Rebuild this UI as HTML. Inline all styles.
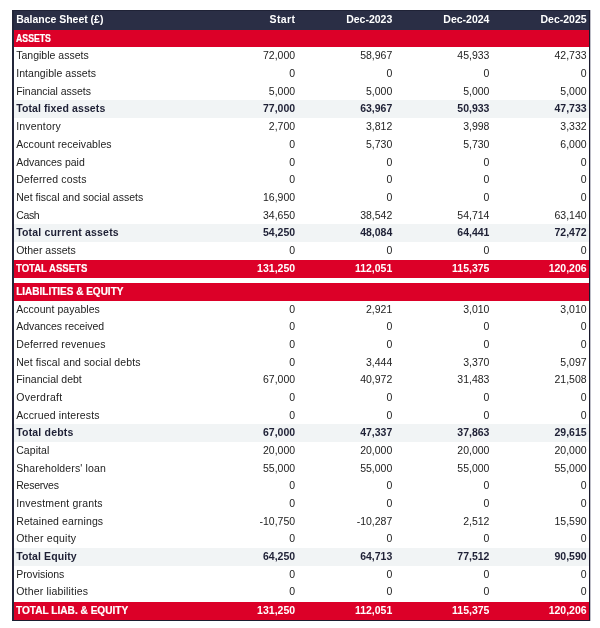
<!DOCTYPE html><html><head><meta charset="utf-8"><style>
html,body{margin:0;padding:0;background:#fff;}
body{width:600px;height:628px;overflow:hidden;position:relative;font-family:"Liberation Sans",sans-serif;}
.tbl{position:absolute;left:12px;top:10px;width:575px;border:1px solid #23263a;border-left-width:2px;border-top:0;will-change:transform;}
.r{display:flex;height:17.7px;line-height:17.7px;font-size:10.5px;color:#222;}
.part2 .r{height:17.68px;line-height:17.68px;}
.r .l{width:186.2px;padding-left:2.2px;box-sizing:border-box;white-space:nowrap;}
.r .l span{display:inline-block;}
.r .v{width:97.2px;text-align:right;padding-right:2.3px;box-sizing:border-box;}
.r.hdr{height:20.4px;line-height:20.4px;background:#2a2e45;color:#fff;font-weight:bold;box-shadow:inset 0 1px 0 #1f2236;}
.r.hdr .l, .r.hdr .v{line-height:19px;}
.r.first{height:17px;line-height:17px;}
.part1 .r.sec:last-child{height:18px;line-height:17.7px;}
.sec{background:#dc0028;color:#fff;font-weight:bold;}
.sec .l{font-size:10px;}
.t{background:#f1f4f5;color:#1e2035;font-weight:bold;}
.gap{height:5.2px;}
.part2 .r.last{height:18.17px;line-height:17.68px;margin-top:0.6px;}
.tbl{border-right-color:#18182c;border-bottom-color:#1c1d30;box-shadow:1px 0 0 rgba(40,40,70,0.3);}
.sec .l span{-webkit-text-stroke:0.2px #fff;}

</style></head><body><div class="tbl"><div class="part1">
<div class="r hdr"><div class="l"><span style="letter-spacing:-0.019px">Balance Sheet (£)</span></div><div class="v" style="letter-spacing:0.4px;padding-right:1.9px">Start</div><div class="v">Dec-2023</div><div class="v">Dec-2024</div><div class="v">Dec-2025</div></div>
<div class="r sec first"><div class="l"><span style="transform:scaleX(0.873);transform-origin:0 50%">ASSETS</span></div><div class="v"></div><div class="v"></div><div class="v"></div><div class="v"></div></div>
<div class="r n"><div class="l"><span style="letter-spacing:0.014px">Tangible assets</span></div><div class="v">72,000</div><div class="v">58,967</div><div class="v">45,933</div><div class="v">42,733</div></div>
<div class="r n"><div class="l"><span style="letter-spacing:0.059px">Intangible assets</span></div><div class="v">0</div><div class="v">0</div><div class="v">0</div><div class="v">0</div></div>
<div class="r n"><div class="l"><span style="letter-spacing:-0.037px">Financial assets</span></div><div class="v">5,000</div><div class="v">5,000</div><div class="v">5,000</div><div class="v">5,000</div></div>
<div class="r t"><div class="l"><span style="letter-spacing:0.1px">Total fixed assets</span></div><div class="v">77,000</div><div class="v">63,967</div><div class="v">50,933</div><div class="v">47,733</div></div>
<div class="r n"><div class="l"><span style="letter-spacing:0.181px">Inventory</span></div><div class="v">2,700</div><div class="v">3,812</div><div class="v">3,998</div><div class="v">3,332</div></div>
<div class="r n"><div class="l"><span style="letter-spacing:0.081px">Account receivables</span></div><div class="v">0</div><div class="v">5,730</div><div class="v">5,730</div><div class="v">6,000</div></div>
<div class="r n"><div class="l"><span style="letter-spacing:-0.025px">Advances paid</span></div><div class="v">0</div><div class="v">0</div><div class="v">0</div><div class="v">0</div></div>
<div class="r n"><div class="l"><span style="letter-spacing:0.15px">Deferred costs</span></div><div class="v">0</div><div class="v">0</div><div class="v">0</div><div class="v">0</div></div>
<div class="r n"><div class="l"><span style="letter-spacing:0.017px">Net fiscal and social assets</span></div><div class="v">16,900</div><div class="v">0</div><div class="v">0</div><div class="v">0</div></div>
<div class="r n"><div class="l"><span style="letter-spacing:-0.35px">Cash</span></div><div class="v">34,650</div><div class="v">38,542</div><div class="v">54,714</div><div class="v">63,140</div></div>
<div class="r t"><div class="l"><span style="letter-spacing:0.182px">Total current assets</span></div><div class="v">54,250</div><div class="v">48,084</div><div class="v">64,441</div><div class="v">72,472</div></div>
<div class="r n"><div class="l"><span>Other assets</span></div><div class="v">0</div><div class="v">0</div><div class="v">0</div><div class="v">0</div></div>
<div class="r sec"><div class="l"><span style="transform:scaleX(0.955);transform-origin:0 50%">TOTAL ASSETS</span></div><div class="v">131,250</div><div class="v">112,051</div><div class="v">115,375</div><div class="v">120,206</div></div>
</div><div class="part2"><div class="gap"></div>
<div class="r sec"><div class="l"><span style="transform:scaleX(1.0);transform-origin:0 50%">LIABILITIES &amp; EQUITY</span></div><div class="v"></div><div class="v"></div><div class="v"></div><div class="v"></div></div>
<div class="r n"><div class="l"><span style="letter-spacing:0.047px">Account payables</span></div><div class="v">0</div><div class="v">2,921</div><div class="v">3,010</div><div class="v">3,010</div></div>
<div class="r n"><div class="l"><span style="letter-spacing:-0.05px">Advances received</span></div><div class="v">0</div><div class="v">0</div><div class="v">0</div><div class="v">0</div></div>
<div class="r n"><div class="l"><span style="letter-spacing:0.153px">Deferred revenues</span></div><div class="v">0</div><div class="v">0</div><div class="v">0</div><div class="v">0</div></div>
<div class="r n"><div class="l"><span style="letter-spacing:0.085px">Net fiscal and social debts</span></div><div class="v">0</div><div class="v">3,444</div><div class="v">3,370</div><div class="v">5,097</div></div>
<div class="r n"><div class="l"><span style="letter-spacing:0.015px">Financial debt</span></div><div class="v">67,000</div><div class="v">40,972</div><div class="v">31,483</div><div class="v">21,508</div></div>
<div class="r n"><div class="l"><span style="letter-spacing:0.275px">Overdraft</span></div><div class="v">0</div><div class="v">0</div><div class="v">0</div><div class="v">0</div></div>
<div class="r n"><div class="l"><span style="letter-spacing:0.138px">Accrued interests</span></div><div class="v">0</div><div class="v">0</div><div class="v">0</div><div class="v">0</div></div>
<div class="r t"><div class="l"><span style="letter-spacing:0.195px">Total debts</span></div><div class="v">67,000</div><div class="v">47,337</div><div class="v">37,863</div><div class="v">29,615</div></div>
<div class="r n"><div class="l"><span style="letter-spacing:0.075px">Capital</span></div><div class="v">20,000</div><div class="v">20,000</div><div class="v">20,000</div><div class="v">20,000</div></div>
<div class="r n"><div class="l"><span style="letter-spacing:0.144px">Shareholders' loan</span></div><div class="v">55,000</div><div class="v">55,000</div><div class="v">55,000</div><div class="v">55,000</div></div>
<div class="r n"><div class="l"><span style="letter-spacing:-0.221px">Reserves</span></div><div class="v">0</div><div class="v">0</div><div class="v">0</div><div class="v">0</div></div>
<div class="r n"><div class="l"><span style="letter-spacing:0.184px">Investment grants</span></div><div class="v">0</div><div class="v">0</div><div class="v">0</div><div class="v">0</div></div>
<div class="r n"><div class="l"><span style="letter-spacing:0.106px">Retained earnings</span></div><div class="v">-10,750</div><div class="v">-10,287</div><div class="v">2,512</div><div class="v">15,590</div></div>
<div class="r n"><div class="l"><span style="letter-spacing:0.245px">Other equity</span></div><div class="v">0</div><div class="v">0</div><div class="v">0</div><div class="v">0</div></div>
<div class="r t"><div class="l"><span style="letter-spacing:0.109px">Total Equity</span></div><div class="v">64,250</div><div class="v">64,713</div><div class="v">77,512</div><div class="v">90,590</div></div>
<div class="r n"><div class="l"><span style="letter-spacing:-0.033px">Provisions</span></div><div class="v">0</div><div class="v">0</div><div class="v">0</div><div class="v">0</div></div>
<div class="r n"><div class="l"><span style="letter-spacing:0.184px">Other liabilities</span></div><div class="v">0</div><div class="v">0</div><div class="v">0</div><div class="v">0</div></div>
<div class="r sec last"><div class="l"><span style="transform:scaleX(1.01);transform-origin:0 50%">TOTAL LIAB. &amp; EQUITY</span></div><div class="v">131,250</div><div class="v">112,051</div><div class="v">115,375</div><div class="v">120,206</div></div>
</div></div></body></html>
